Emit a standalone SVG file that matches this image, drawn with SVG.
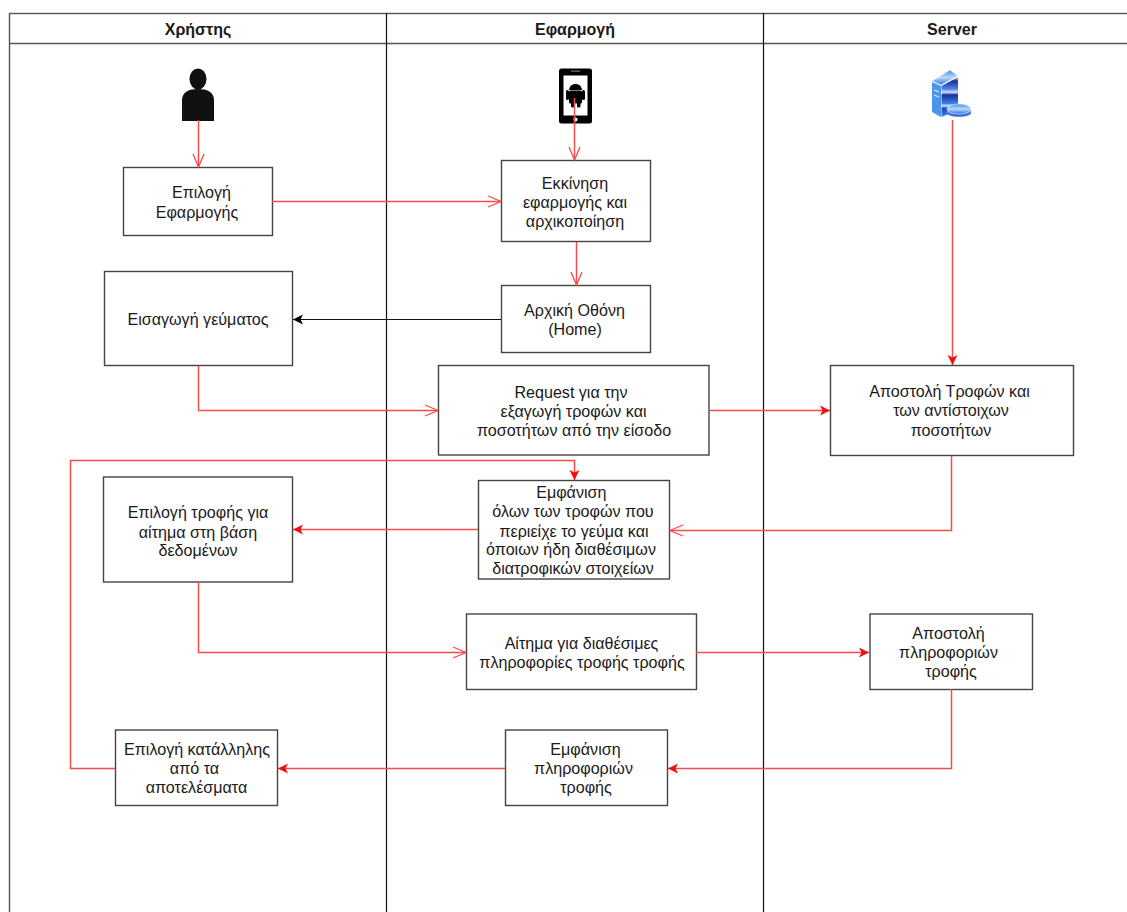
<svg xmlns="http://www.w3.org/2000/svg" width="1127" height="912" viewBox="0 0 1127 912">
<style>
text{font-family:"Liberation Sans",Arial,sans-serif;font-size:16.1px;fill:#1a1a1a;text-anchor:middle}
.h{font-weight:bold;font-size:16px}
.b{fill:#fff;stroke:#444;stroke-width:1.400}
.l{fill:none;stroke:#555;stroke-width:1.400}
.c{fill:none;stroke:#f64c4c;stroke-width:1.500}
.k{fill:none;stroke:#111;stroke-width:1.200}
</style>
<defs>
<marker id="o" markerUnits="userSpaceOnUse" markerWidth="16" markerHeight="14" refX="14" refY="7" orient="auto"><path d="M1 1.500L14 7L1 12.500" fill="none" stroke="#f64c4c" stroke-width="1.300"/></marker>
<marker id="f" markerUnits="userSpaceOnUse" markerWidth="12" markerHeight="12" refX="10" refY="6" orient="auto"><path d="M0 1L10 6L0 11L2.500 6Z" fill="#f01010"/></marker>
<marker id="kf" markerUnits="userSpaceOnUse" markerWidth="12" markerHeight="12" refX="10" refY="6" orient="auto"><path d="M0 1L10 6L0 11L2.500 6Z" fill="#000"/></marker>
<linearGradient id="sv" x1="0" y1="0" x2="0" y2="1"><stop offset="0" stop-color="#dcebff"/><stop offset=".1" stop-color="#16309a"/><stop offset=".3" stop-color="#4f86e6"/><stop offset=".38" stop-color="#cfe2fc"/><stop offset=".45" stop-color="#16309a"/><stop offset=".66" stop-color="#3f7fe8"/><stop offset=".72" stop-color="#d5e6fd"/><stop offset=".78" stop-color="#1d46b8"/><stop offset="1" stop-color="#3f8bf0"/></linearGradient>
<linearGradient id="sl" x1="0" y1="0" x2="0" y2="1"><stop offset="0" stop-color="#3f8bf0"/><stop offset=".5" stop-color="#bcd9fb"/><stop offset="1" stop-color="#2a6fe0"/></linearGradient>
<linearGradient id="sd" x1="0" y1="0" x2="0" y2="1"><stop offset="0" stop-color="#5aa2f5"/><stop offset="1" stop-color="#2a5fd0"/></linearGradient>
</defs>
<g id="lanes">
<rect x="9.500" y="13.500" width="1120" height="905" fill="#fff" stroke="#555" stroke-width="1.400"/>
<path class="l" d="M9.500 43.500H1127"/>
<path class="k" d="M386.500 13V912M763.500 13V912"/>
<text class="h" x="198" y="35">Χρήστης</text>
<text class="h" x="575" y="35">Εφαρμογή</text>
<text class="h" x="952" y="35">Server</text>
</g>
<g id="user-icon">
<ellipse cx="198" cy="79" rx="8.500" ry="10.500" fill="#111"/>
<path d="M182 121V100C182 92 189 89 198 89C207 89 214 92 214 100V121Z" fill="#111"/>
</g>
<g id="phone-icon">
<rect x="559" y="68.500" width="33" height="55" rx="2.500" fill="#000"/>
<rect x="563.500" y="75.500" width="24" height="40" fill="#fff"/>
<circle cx="575.500" cy="119.500" r="2" fill="#fff"/>
<rect x="571" y="70.500" width="9" height="1.200" fill="#777"/>
<path d="M569 90C569.500 86 572 84 575.500 84C579 84 581.500 86 582 90Z" fill="#000"/>
<rect x="569" y="90.500" width="13" height="13" rx="1.500" fill="#000"/>
<rect x="571" y="101" width="3.500" height="6.500" rx="1.500" fill="#000"/>
<rect x="577" y="101" width="3.500" height="6.500" rx="1.500" fill="#000"/>
<rect x="566" y="90" width="3" height="10" rx="1.500" fill="#000"/>
<rect x="582" y="90" width="3" height="10" rx="1.500" fill="#000"/>
</g>
<g id="server-icon">
<path d="M932 81L950 70L958 76L941 85Z" fill="url(#sl)" stroke="#fff" stroke-width=".5"/>
<path d="M932 82L941 86V117L932 112Z" fill="#4d94ef"/>
<path d="M934 90L939 92M934 95L939 97" stroke="#dcebff" stroke-width="1.300"/>
<path d="M941.500 86L958 77V110L941.500 117Z" fill="url(#sv)"/>
<path d="M947 110V113C947 118 971 118 971 113V110Z" fill="url(#sd)"/>
<ellipse cx="959" cy="109" rx="12" ry="5" fill="url(#sl)" stroke="#fff" stroke-width=".5"/>
</g>
<g id="n1"><rect class="b" x="123.500" y="167.500" width="149" height="68"/><text x="201.500" y="198">Επιλογή</text><text x="197" y="218">Εφαρμογής</text></g>
<g id="n2"><rect class="b" x="501.500" y="160.500" width="149" height="81"/><text x="575" y="189">Εκκίνηση</text><text x="575" y="208">εφαρμογής και</text><text x="575" y="227">αρχικοποίηση</text></g>
<g id="n3"><rect class="b" x="501.500" y="285.500" width="149" height="67"/><text x="574.500" y="316">Αρχική Οθόνη</text><text x="575" y="335">(Home)</text></g>
<g id="n4"><rect class="b" x="104.500" y="271.500" width="188" height="94"/><text x="198" y="325">Εισαγωγή γεύματος</text></g>
<g id="n5"><rect class="b" x="438.500" y="365.500" width="270.500" height="89.500"/><text x="571" y="398">Request για την</text><text x="573.500" y="417">εξαγωγή τροφών και</text><text x="574" y="436">ποσοτήτων από την είσοδο</text></g>
<g id="n6"><rect class="b" x="830.500" y="365.500" width="243" height="90"/><text x="949.500" y="397">Αποστολή Τροφών και</text><text x="951" y="416">των αντίστοιχων</text><text x="951" y="436">ποσοτήτων</text></g>
<g id="n7"><rect class="b" x="478.500" y="480.500" width="191" height="98.500"/><text x="571.300" y="498">Εμφάνιση</text><text x="573" y="517">όλων των τροφών που</text><text x="574" y="537">περιείχε το γεύμα και</text><text x="571" y="555">όποιων ήδη διαθέσιμων</text><text x="573" y="574">διατροφικών στοιχείων</text></g>
<g id="n8"><rect class="b" x="103.500" y="477" width="189" height="105"/><text x="198" y="518">Επιλογή τροφής για</text><text x="198" y="537.500">αίτημα στη βάση</text><text x="198" y="556">δεδομένων</text></g>
<g id="n9"><rect class="b" x="466.500" y="614" width="230" height="75.500"/><text x="581.500" y="649">Αίτημα για διαθέσιμες</text><text x="582" y="668">πληροφορίες τροφής τροφής</text></g>
<g id="n10"><rect class="b" x="870" y="614" width="162.500" height="75.500"/><text x="948.500" y="639">Αποστολή</text><text x="948.500" y="658">πληροφοριών</text><text x="951" y="677">τροφής</text></g>
<g id="n11"><rect class="b" x="505.500" y="730" width="162" height="75.500"/><text x="585.500" y="755">Εμφάνιση</text><text x="583.500" y="774">πληροφοριών</text><text x="586" y="793">τροφής</text></g>
<g id="n12"><rect class="b" x="115.500" y="730" width="162" height="75.500"/><text x="197" y="755">Επιλογή κατάλληλης</text><text x="194.500" y="774">από τα</text><text x="196.500" y="793">αποτελέσματα</text></g>
<g id="connectors">
<path class="c" d="M198.500 120V167" marker-end="url(#o)"/>
<path class="c" d="M574.500 98V160" marker-end="url(#o)"/>
<path class="c" d="M272 201.500H501" marker-end="url(#o)"/>
<path class="c" d="M576.500 242V285" marker-end="url(#o)"/>
<path class="k" d="M501 319.500H293" marker-end="url(#kf)"/>
<path class="c" d="M198.500 366V410.500H438" marker-end="url(#o)"/>
<path class="c" d="M709 410.500H830" marker-end="url(#f)"/>
<path class="c" d="M952.500 120V365" marker-end="url(#f)"/>
<path class="c" d="M951.500 456V530.500H670" marker-end="url(#o)"/>
<path class="c" d="M478 529.500H293" marker-end="url(#f)"/>
<path class="c" d="M198.500 582V652.500H466" marker-end="url(#o)"/>
<path class="c" d="M696 652.500H869" marker-end="url(#f)"/>
<path class="c" d="M951.500 689V768.500H668" marker-end="url(#f)"/>
<path class="c" d="M505 768.500H278" marker-end="url(#f)"/>
<path class="c" d="M115 768.500H70.500V460.500H574.500V480" marker-end="url(#f)"/>
</g>
</svg>
